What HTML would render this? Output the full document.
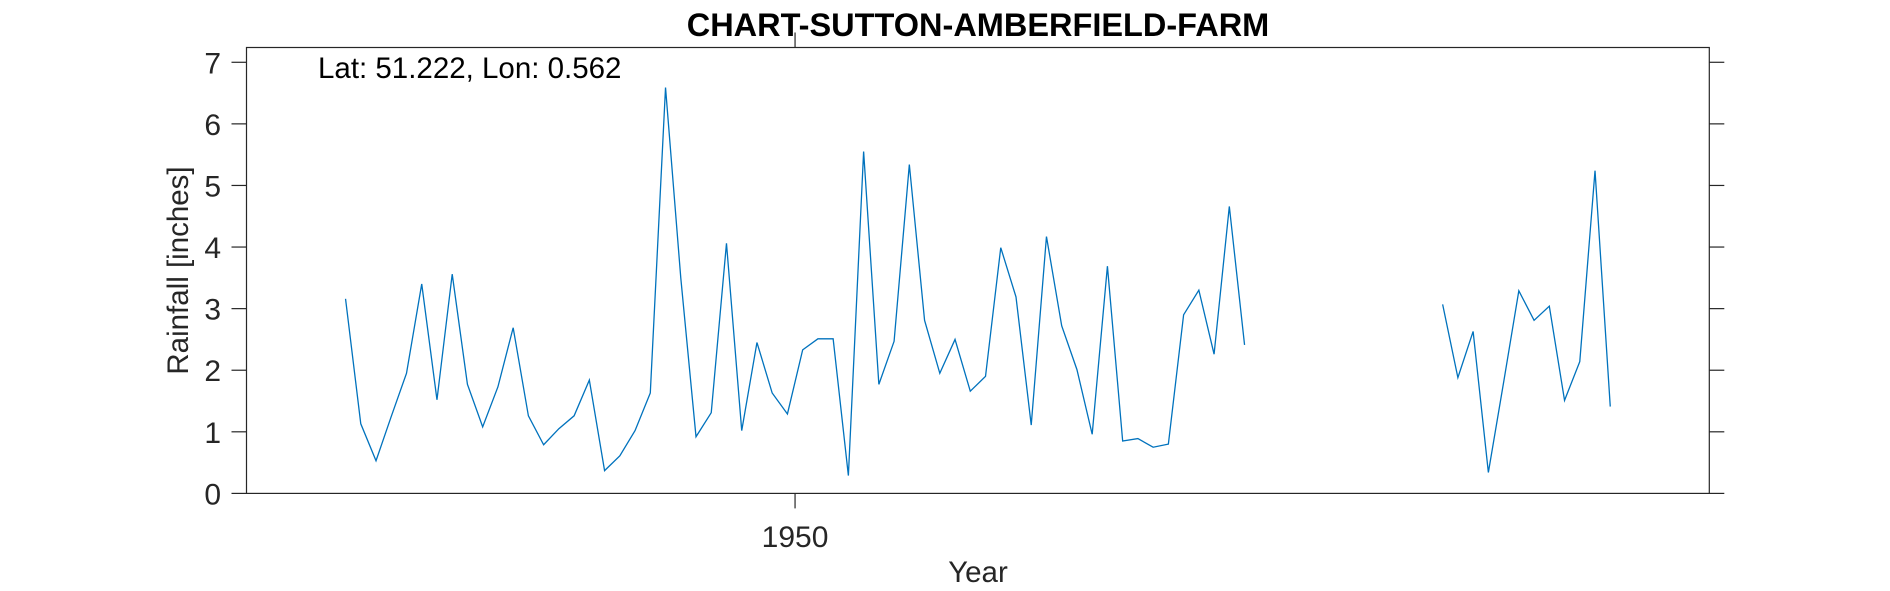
<!DOCTYPE html>
<html><head><meta charset="utf-8"><style>
html,body{margin:0;padding:0;background:#fff;}
svg{display:block;font-family:"Liberation Sans",Arial,sans-serif;}
</style></head><body>
<svg id="chart" width="1890" height="591" viewBox="0 0 1890 591" xmlns="http://www.w3.org/2000/svg">
<rect x="0" y="0" width="1890" height="591" fill="#fff"/>
<g id="axes"></g>
<g id="series"></g>
<text x="978" y="36" text-anchor="middle" font-size="32.5" font-weight="bold" fill="#000">CHART-SUTTON-AMBERFIELD-FARM</text>
<text x="318" y="78" font-size="29.5" fill="#000">Lat: 51.222, Lon: 0.562</text>
<text x="978" y="582" text-anchor="middle" font-size="29.5" fill="#262626">Year</text>
<text x="0" y="0" transform="translate(188,270.5) rotate(-90)" text-anchor="middle" font-size="29.5" fill="#262626">Rainfall [inches]</text>
</svg>
<script>
const years = [1920,1921,1922,1923,1924,1925,1926,1927,1928,1929,1930,1931,1932,1933,1934,1935,1936,1937,1938,1939,1940,1941,1942,1943,1944,1945,1946,1947,1948,1949,1950,1951,1952,1953,1954,1955,1956,1957,1958,1959,1960,1961,1962,1963,1964,1965,1966,1967,1968,1969,1970,1971,1972,1973,1974,1975,1976,1977,1978,1979,1980,1981,1982,1983,1984,1985,1986,1987,1988,1989,1990,1991,1992,1993,1994,1995,1996,1997,1998,1999,2000,2001,2002,2003];
const rainfall = [3.16,1.13,0.53,1.25,1.95,3.40,1.52,3.56,1.77,1.08,1.73,2.69,1.26,0.79,1.05,1.26,1.84,0.37,0.61,1.02,1.63,6.59,3.5,0.92,1.31,4.06,1.02,2.45,1.63,1.29,2.33,2.51,2.51,0.29,5.55,1.77,2.47,5.34,2.81,1.95,2.50,1.66,1.90,3.99,3.19,1.11,4.17,2.72,2.01,0.96,3.69,0.85,0.89,0.75,0.80,2.90,3.30,2.26,4.66,2.41,null,null,null,null,null,null,null,null,null,null,null,null,3.07,1.88,2.63,0.34,1.80,3.29,2.81,3.04,1.51,2.14,5.24,1.41];
const yTicks = [0,1,2,3,4,5,6,7];
const xTicks = [1950];
const xDomain = [1914, 2010];
const yDomain = [0, 7.24];

const L=246.5,R=1709.3,T=47.5,B=493.4;
const NS='http://www.w3.org/2000/svg';
function xs(v){return L+(v-xDomain[0])/(xDomain[1]-xDomain[0])*(R-L);}
function ys(v){return B-(v-yDomain[0])/(yDomain[1]-yDomain[0])*(B-T);}
function mk(tag,attrs,parent){const e=document.createElementNS(NS,tag);for(const k in attrs)e.setAttribute(k,attrs[k]);parent.appendChild(e);return e;}
const ax=document.getElementById('axes');
const box=mk('rect',{x:L,y:T,width:R-L,height:B-T,fill:'none',stroke:'#262626','stroke-width':1.2},ax);


yTicks.forEach(t=>{
  const y=ys(t);
  const l1=mk('line',{x1:L-15,x2:L,y1:y,y2:y,stroke:'#262626','stroke-width':1.2},ax);
  
  
  const l2=mk('line',{x1:R,x2:R+15,y1:y,y2:y,stroke:'#262626','stroke-width':1.2},ax);
  
  
  const tx=mk('text',{x:221,y:y+11,'text-anchor':'end','font-size':30,fill:'#262626'},ax);
  tx.textContent=t;
  
  
});
xTicks.forEach(t=>{
  const x=xs(t);
  const l1=mk('line',{x1:x,x2:x,y1:B,y2:B+15,stroke:'#262626','stroke-width':1.2},ax);
  
  
  const l2=mk('line',{x1:x,x2:x,y1:T-15,y2:T,stroke:'#262626','stroke-width':1.2},ax);
  
  
  const tx=mk('text',{x:x,y:547,'text-anchor':'middle','font-size':30,fill:'#262626'},ax);
  tx.textContent=t;
  
  
});
const sg=document.getElementById('series');
let d='',pen=false;
years.forEach((yr,i)=>{
  const v=rainfall[i];
  if(v===null||v===undefined){pen=false;return;}
  d+=(pen?'L':'M')+xs(yr+0.5).toFixed(2)+' '+ys(v).toFixed(2)+' ';
  pen=true;
});
const p=mk('path',{d:d,fill:'none',stroke:'#0072BD','stroke-width':1.3,'stroke-linejoin':'miter'},sg);


</script>
</body></html>
